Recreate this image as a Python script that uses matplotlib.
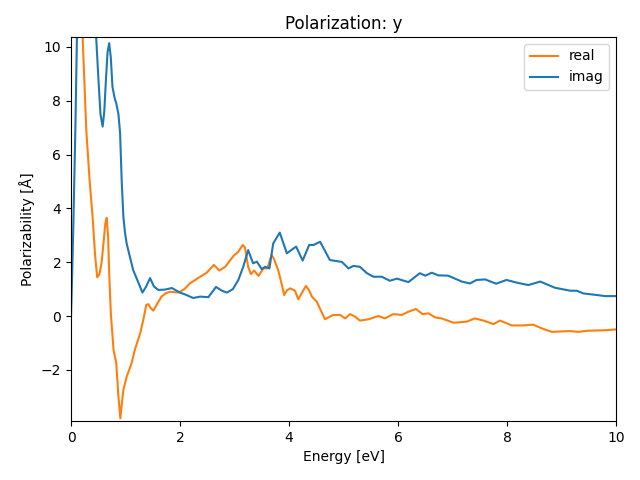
import matplotlib
matplotlib.use('Agg')
import matplotlib.pyplot as plt

# values
energy_real = [0.0, 0.1, 0.18, 0.21, 0.28, 0.34, 0.40, 0.44, 0.48, 0.52, 0.56, 0.60, 0.63, 0.655,
               0.68, 0.70, 0.73, 0.78, 0.83, 0.87, 0.905, 0.93, 0.96, 1.02, 1.11, 1.17, 1.27, 1.33,
               1.38, 1.42, 1.46, 1.51, 1.58, 1.66, 1.74, 1.82, 1.97, 2.08, 2.18, 2.37, 2.49, 2.62,
               2.72, 2.83, 2.98, 3.07, 3.15, 3.19, 3.22, 3.25, 3.30, 3.36, 3.44, 3.53, 3.60, 3.68,
               3.72, 3.80, 3.87, 3.91, 3.96, 4.02, 4.11, 4.17, 4.23, 4.31, 4.37, 4.42, 4.51, 4.58,
               4.66, 4.81, 4.94, 5.03, 5.12, 5.21, 5.30, 5.46, 5.64, 5.76, 5.91, 6.07, 6.19, 6.33,
               6.45, 6.56, 6.68, 6.80, 7.02, 7.26, 7.41, 7.57, 7.75, 7.87, 8.09, 8.30, 8.48, 8.64,
               8.82, 9.03, 9.16, 9.31, 9.46, 9.77, 10.0]
real = [13.5, 14.5, 12.5, 10.5, 6.9, 5.06, 3.57, 2.3, 1.44, 1.55, 1.97, 2.8, 3.45, 3.65,
        2.95, 1.6, 0.11, -1.26, -1.76, -3.0, -3.8, -3.3, -2.75, -2.26, -1.76, -1.26, -0.64, -0.1,
        0.41, 0.44, 0.3, 0.2, 0.45, 0.72, 0.85, 0.9, 0.87, 1.0, 1.21, 1.46, 1.61, 1.90,
        1.69, 1.83, 2.23, 2.39, 2.64, 2.55, 2.2, 1.83, 1.56, 1.69, 1.49, 1.77, 1.77, 2.27,
        2.14, 1.71, 1.15, 0.78, 0.95, 1.03, 0.94, 0.62, 0.84, 1.12, 0.95, 0.72, 0.53, 0.22,
        -0.12, 0.04, 0.04, -0.09, 0.07, -0.02, -0.17, -0.12, 0.0, -0.09, 0.07, 0.04, 0.16, 0.26,
        0.07, 0.1, -0.05, -0.09, -0.25, -0.21, -0.09, -0.17, -0.30, -0.17, -0.35, -0.35, -0.32, -0.46,
        -0.59, -0.57, -0.56, -0.59, -0.55, -0.53, -0.5]

energy_imag = [0.0, 0.02, 0.04, 0.08, 0.11, 0.2, 0.3, 0.46, 0.50, 0.54, 0.58, 0.61, 0.64, 0.67,
               0.70, 0.73, 0.76, 0.80, 0.83, 0.87, 0.90, 0.93, 0.96, 0.99, 1.02, 1.08, 1.14, 1.24,
               1.31, 1.38, 1.45, 1.52, 1.60, 1.72, 1.85, 2.0, 2.12, 2.24, 2.37, 2.52, 2.66, 2.76,
               2.86, 2.97, 3.07, 3.16, 3.25, 3.34, 3.41, 3.50, 3.56, 3.64, 3.71, 3.83, 3.96, 4.13,
               4.25, 4.37, 4.45, 4.57, 4.75, 4.97, 5.09, 5.18, 5.30, 5.43, 5.55, 5.70, 5.85, 5.98,
               6.19, 6.40, 6.50, 6.62, 6.74, 6.92, 7.17, 7.32, 7.44, 7.60, 7.80, 7.99, 8.18, 8.39,
               8.61, 8.88, 9.16, 9.28, 9.40, 9.65, 9.80, 10.0]
imag = [0.0, 1.5, 3.2, 7.0, 10.6, 14.0, 14.5, 10.4, 8.9, 7.5, 7.04, 7.6, 8.77, 9.8,
        10.14, 9.6, 8.52, 8.1, 7.9, 7.5, 6.8, 5.0, 3.7, 3.1, 2.7, 2.2, 1.71, 1.22,
        0.87, 1.1, 1.41, 1.1, 0.97, 0.98, 1.04, 0.87, 0.78, 0.67, 0.72, 0.70, 1.08, 0.95,
        0.87, 1.0, 1.34, 1.83, 2.45, 1.96, 2.02, 1.74, 1.83, 1.77, 2.70, 3.10, 2.33, 2.58,
        2.06, 2.64, 2.64, 2.76, 2.08, 2.01, 1.77, 1.86, 1.83, 1.59, 1.46, 1.46, 1.31, 1.39,
        1.26, 1.59, 1.50, 1.61, 1.51, 1.50, 1.28, 1.21, 1.34, 1.36, 1.20, 1.34, 1.24, 1.15,
        1.28, 1.05, 0.94, 0.94, 0.84, 0.78, 0.74, 0.74]

fig, ax = plt.subplots(figsize=(6.4, 4.8), dpi=100)
ax.plot(energy_real, real, color='C1', label='real')
ax.plot(energy_imag, imag, color='C0', label='imag')
ax.set_xlim(0, 10)
ax.set_ylim(-3.9, 10.37)
ax.set_xlabel('Energy [eV]')
ax.set_ylabel('Polarizability [Å]')
ax.set_title('Polarization: y')
ax.legend(loc='upper right')
fig.subplots_adjust(left=0.111, right=0.9625, top=0.923, bottom=0.123)
plt.savefig('out.png')
